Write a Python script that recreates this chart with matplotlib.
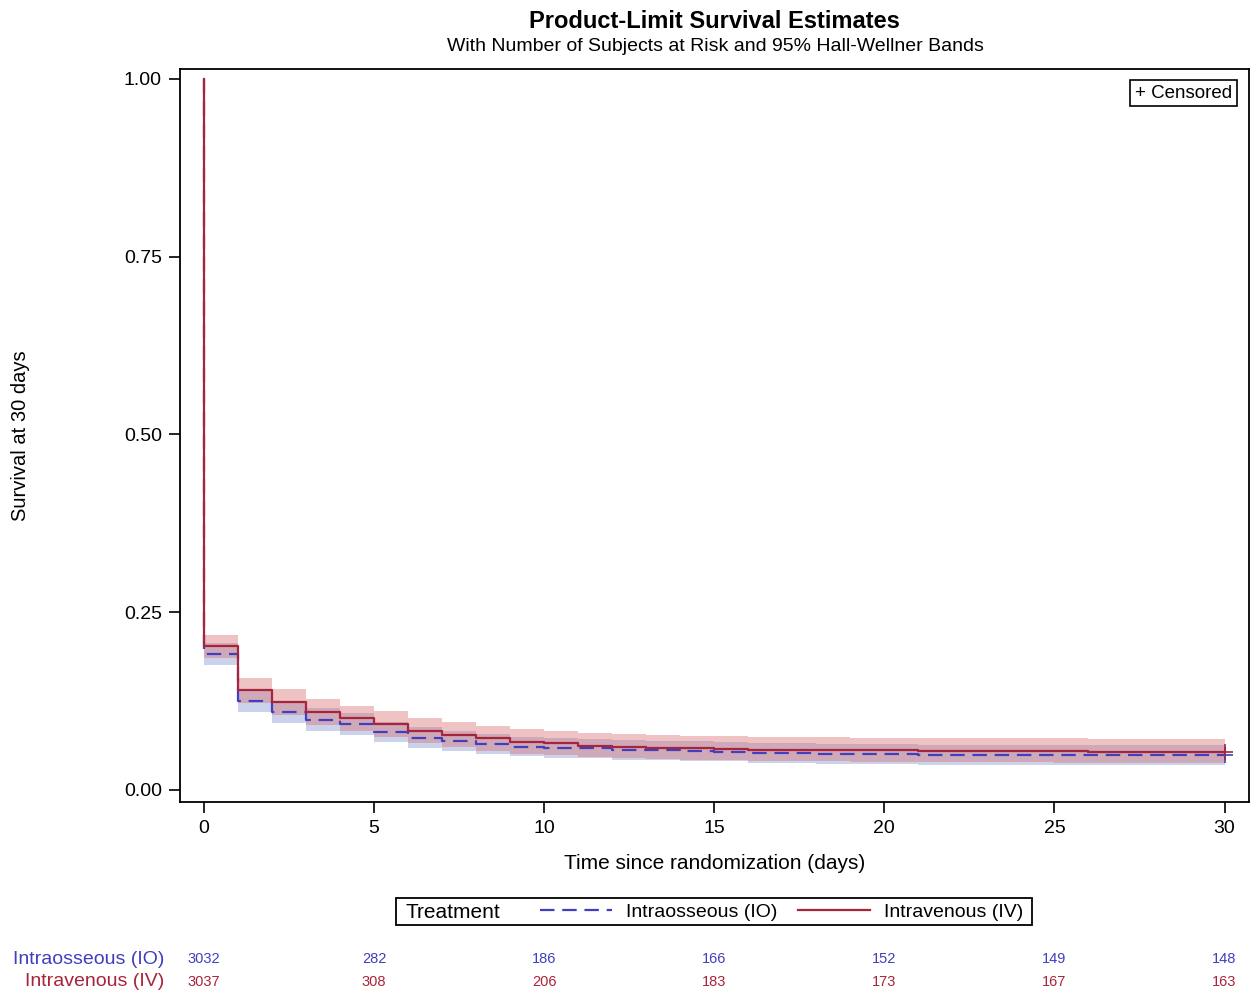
import numpy as np
import matplotlib
matplotlib.use('Agg')
import matplotlib.pyplot as plt
from matplotlib.lines import Line2D
from matplotlib.patches import Rectangle

plt.rcParams['font.family'] = ['Liberation Sans', 'DejaVu Sans']

# survival level on each day interval [k, k+1), k = 0..29 (start is 1.0 at t=0)
days = np.arange(0, 31)
io_surv = [0.1915, 0.125, 0.109, 0.099, 0.0925, 0.081, 0.0737, 0.069, 0.064, 0.061,
           0.0596, 0.0584, 0.0565, 0.0555, 0.0547, 0.0540, 0.0520, 0.0515, 0.0510, 0.0505,
           0.0500, 0.0495, 0.0492, 0.0491, 0.0490, 0.0490, 0.0489, 0.0488, 0.0488, 0.0488]
iv_surv = [0.202, 0.140, 0.124, 0.110, 0.101, 0.093, 0.0835, 0.0775, 0.0725, 0.068,
           0.0655, 0.0624, 0.0605, 0.0596, 0.0585, 0.0577, 0.0565, 0.0563, 0.0560, 0.0557,
           0.0555, 0.0550, 0.0550, 0.0550, 0.0548, 0.0545, 0.0540, 0.0540, 0.0540, 0.0535]

# Hall-Wellner band limits
io_lo = [0.176, 0.109, 0.094, 0.083, 0.077, 0.067, 0.0587, 0.055, 0.050, 0.047,
         0.0455, 0.0445, 0.0425, 0.0415, 0.0408, 0.0400, 0.0380, 0.0375, 0.0370, 0.0365,
         0.0360, 0.0355, 0.0352, 0.0351, 0.0350, 0.0350, 0.0349, 0.0348, 0.0348, 0.0348]
io_hi = [0.207, 0.141, 0.124, 0.115, 0.108, 0.095, 0.0887, 0.083, 0.078, 0.075,
         0.0737, 0.0723, 0.0705, 0.0695, 0.0686, 0.0680, 0.0660, 0.0655, 0.0650, 0.0645,
         0.0640, 0.0635, 0.0632, 0.0631, 0.0630, 0.0630, 0.0629, 0.0628, 0.0628, 0.0628]
iv_lo = [0.186, 0.122, 0.106, 0.092, 0.083, 0.075, 0.066, 0.060, 0.055, 0.0505,
         0.0495, 0.0464, 0.0445, 0.0436, 0.0425, 0.0417, 0.0405, 0.0403, 0.0400, 0.0397,
         0.0395, 0.0390, 0.0390, 0.0390, 0.0388, 0.0385, 0.0380, 0.0380, 0.0380, 0.0375]
iv_hi = [0.218, 0.158, 0.142, 0.128, 0.118, 0.111, 0.101, 0.095, 0.090, 0.0855,
         0.0835, 0.0804, 0.0785, 0.0776, 0.0765, 0.0757, 0.0745, 0.0743, 0.0740, 0.0737,
         0.0735, 0.0730, 0.0730, 0.0730, 0.0728, 0.0725, 0.0720, 0.0720, 0.0720, 0.0715]

risk_days = [0, 5, 10, 15, 20, 25, 30]
io_risk = [3032, 282, 186, 166, 152, 149, 148]
iv_risk = [3037, 308, 206, 183, 173, 167, 163]

io_col = '#3f3fbf'
iv_col = '#a8243a'
io_fill = '#7f93d0'
iv_fill = '#d86a6a'

W, H = 1255, 993
fig = plt.figure(figsize=(W / 100, H / 100), dpi=100)
ax = fig.add_axes([180 / W, 1 - 802 / H, (1249 - 180) / W, (802 - 69) / H])


def steps(vals):
    # repeat last value so steps-post reaches day 30
    return list(vals) + [vals[-1]]


ax.fill_between(days, steps(io_lo), steps(io_hi), step='post', color=io_fill, alpha=0.4, lw=0)
ax.fill_between(days, steps(iv_lo), steps(iv_hi), step='post', color=iv_fill, alpha=0.4, lw=0)

x = np.concatenate([[0], days])
ax.plot(x, [1.0] + steps(io_surv), drawstyle='steps-post', color=io_col, lw=1.6,
        dashes=(6.5, 3.5))
ax.plot(x, [1.0] + steps(iv_surv), drawstyle='steps-post', color=iv_col, lw=1.6)
ax.plot([30], [io_surv[-1]], marker='+', ms=11, mew=1.2, color=io_col, ls='none')
ax.plot([30], [iv_surv[-1]], marker='+', ms=11, mew=1.2, color=iv_col, ls='none')

ax.set_xlim(-0.706, 30.72)
ax.set_ylim(-0.017, 1.014)
ax.set_xticks([0, 5, 10, 15, 20, 25, 30])
ax.set_yticks([0, 0.25, 0.5, 0.75, 1.0])
ax.set_yticklabels(['0.00', '0.25', '0.50', '0.75', '1.00'])
ax.tick_params(direction='out', length=8, width=1.2, labelsize=14, pad=5, colors='black')
for s in ax.spines.values():
    s.set_linewidth(1.3)
ax.set_xlabel('Time since randomization (days)', fontsize=15, labelpad=12)
ax.set_ylabel('Survival at 30 days', fontsize=14.5)
ax.yaxis.set_label_coords(-0.140, 0.5)

fig.text(0.569, 0.978, 'Product-Limit Survival Estimates', ha='center', va='center',
         fontsize=17, fontweight='bold')
fig.text(0.570, 0.953, 'With Number of Subjects at Risk and 95% Hall-Wellner Bands',
         ha='center', va='center', fontsize=14)

# censored legend inside the plot
ax.text(0.984, 0.967, '+ Censored', transform=ax.transAxes, ha='right', va='center',
        fontsize=13.5, bbox=dict(boxstyle='square,pad=0.25', fc='white', ec='black', lw=1.2))

# treatment legend below: frame + title + the two line entries
ly = 1 - 912 / H
fig.patches.append(Rectangle((396 / W, 1 - 925 / H), (1032 - 396) / W, 27 / H,
                             transform=fig.transFigure, fill=False, ec='black', lw=1.3))
fig.text(406 / W, ly, 'Treatment', ha='left', va='center', fontsize=15)
handles = [Line2D([], [], color=io_col, lw=1.6, dashes=(6.5, 3.5)),
           Line2D([], [], color=iv_col, lw=1.6)]
fig.legend(handles, ['Intraosseous (IO)', 'Intravenous (IV)'], ncol=2,
           loc='center left', bbox_to_anchor=(540 / W, ly), frameon=False,
           fontsize=14, handlelength=3.7, columnspacing=1.1,
           borderpad=0, handletextpad=0.7, borderaxespad=0)

# number at risk table
for d, n1, n2 in zip(risk_days, io_risk, iv_risk):
    xf = ax.transData.transform((d, 0))[0] / fig.bbox.width
    fig.text(xf, 1 - 959 / H, str(n1), ha='center', va='center', fontsize=10.5, color=io_col)
    fig.text(xf, 1 - 982 / H, str(n2), ha='center', va='center', fontsize=10.5, color=iv_col)
fig.text(164 / W, 1 - 959 / H, 'Intraosseous (IO)', ha='right', va='center',
         fontsize=14, color=io_col)
fig.text(164 / W, 1 - 982 / H, 'Intravenous (IV)', ha='right', va='center',
         fontsize=14, color=iv_col)

fig.savefig('out.png', dpi=100)
